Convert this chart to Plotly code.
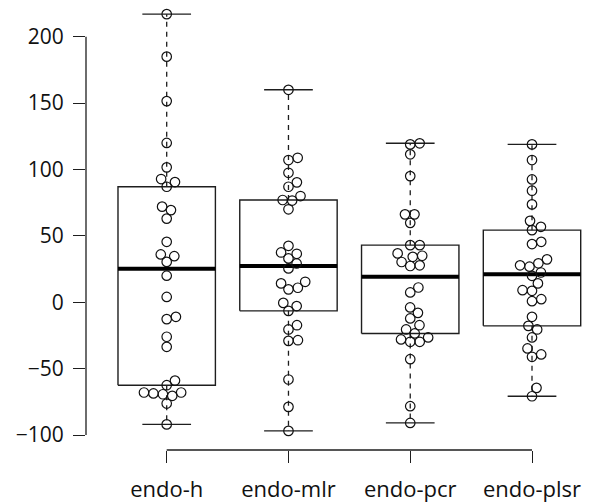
import numpy as np
import plotly.graph_objects as go

categories = ["endo-h", "endo-mlr", "endo-pcr", "endo-plsr"]

endo_h = [217, 185, 151.5, 120, 101.6, 92.8, 90.5, 87, 72, 69.4, 63, 45.5,
          36, 34.7, 30.4, 20, 4, -11, -12.7, -26, -33.6, -59, -62.5,
          -68, -68, -69.3, -70.5, -68.7, -76.3, -92]
endo_mlr = [160, 108.8, 107.1, 97.5, 90.3, 87.0, 80, 77, 76.6, 70, 42.5, 37.5,
            36.5, 33, 29.2, 25.5, 15.4, 14.2, 10.9, 9.7, -0.5, -2.9, -6.5,
            -17.3, -20.5, -28.6, -29.1, -58.2, -78.8, -96.9]
endo_pcr = [119.7, 118.9, 111.4, 95, 66.2, 66.2, 59.8, 43, 43, 36.8, 35, 34.2,
            30.3, 27.8, 27.3, 11.1, 7.4, -3.9, -8, -12.2, -17.3, -20.5,
            -23.5, -26.5, -28, -29.8, -29.8, -42.9, -78.3, -90.9]
endo_plsr = [118.9, 107.1, 92.5, 84, 73.7, 61.3, 56.8, 54.3, 45.5, 43.8, 32.3,
             29.3, 27.8, 26.8, 22.4, 19.9, 14.2, 9.1, 8.6, 2.3, 0.8, -11,
             -17.8, -20.5, -26.5, -34.8, -39.3, -41.1, -64.5, -70.8]

series = [endo_h, endo_mlr, endo_pcr, endo_plsr]
y_ticks = [-100, -50, 0, 50, 100, 150, 200]

# layout geometry (page has an 8px body margin, so the figure is 8px smaller)
W, H = 584, 494
ML, MR, MT, MB = 78, 0, 0, 52
x_range = [0.3373, 4.4927]
y_range = [-111.3, 221.63]
plot_w = W - ML - MR
plot_h = H - MT - MB
sx = plot_w / (x_range[1] - x_range[0])   # px per x unit
sy = plot_h / (y_range[1] - y_range[0])   # px per y unit

LINE = "#1e1e1e"
BOXW = 0.4
CAPW = 0.2
SPACE_PX = 9.5


def fivenum(v):
    x = np.sort(np.asarray(v, float))
    n = len(x)
    n4 = np.floor((n + 3) / 2) / 2
    d = np.array([1, n4, (n + 1) / 2, n + 1 - n4, n])
    return 0.5 * (x[np.floor(d).astype(int) - 1] + x[np.ceil(d).astype(int) - 1])


def swarm(vals, d):
    vals = np.asarray(vals, float)
    order = np.argsort(vals, kind="stable")
    offs = np.zeros(len(vals))
    placed = []
    for i in order:
        yi = vals[i] * sy
        pot = [(py, px) for (py, px) in placed if abs(yi - py) < d]
        if not pot:
            off = 0.0
        else:
            plus = [px + np.sqrt(d * d - (yi - py) ** 2) for py, px in pot]
            minus = [px - np.sqrt(d * d - (yi - py) ** 2) for py, px in pot]
            cands = [0.0] + plus + minus
            good = [c for c in cands
                    if all((yi - py) ** 2 + (c - px) ** 2 >= 0.999 * d * d for py, px in pot)]
            off = min(good, key=abs)
        offs[i] = off
        placed.append((yi, off))
    return offs / sx


fig = go.Figure()

for k, vals in enumerate(series):
    c = k + 1
    mn, q1, med, q3, mx = fivenum(vals)
    iqr = q3 - q1
    arr = np.asarray(vals, float)
    lo = arr[arr >= q1 - 1.5 * iqr].min()
    hi = arr[arr <= q3 + 1.5 * iqr].max()
    # whiskers
    fig.add_trace(go.Scatter(x=[c, c, None, c, c], y=[q3, hi, None, q1, lo], mode="lines",
                             line=dict(color=LINE, width=1.3, dash="5px,5px"),
                             hoverinfo="skip", showlegend=False))
    # caps
    fig.add_trace(go.Scatter(x=[c - CAPW, c + CAPW, None, c - CAPW, c + CAPW],
                             y=[hi, hi, None, lo, lo], mode="lines",
                             line=dict(color=LINE, width=1.4),
                             hoverinfo="skip", showlegend=False))
    # box
    fig.add_trace(go.Scatter(x=[c - BOXW, c + BOXW, c + BOXW, c - BOXW, c - BOXW],
                             y=[q1, q1, q3, q3, q1], mode="lines",
                             line=dict(color=LINE, width=1.4),
                             hoverinfo="skip", showlegend=False))
    # median
    fig.add_trace(go.Scatter(x=[c - BOXW, c + BOXW], y=[med, med], mode="lines",
                             line=dict(color="#000000", width=4),
                             hoverinfo="skip", showlegend=False))

for k, vals in enumerate(series):
    c = k + 1
    offs = swarm(vals, SPACE_PX)
    fig.add_trace(go.Scatter(x=c + offs, y=vals, mode="markers",
                             marker=dict(symbol="circle-open", size=9.5, color="#111111",
                                         line=dict(width=1.2, color="#111111")),
                             cliponaxis=False, name=categories[k], showlegend=False))

# axis lines in R style
fig.add_shape(type="line", xref="paper", yref="y", x0=0, x1=0, y0=min(y_ticks), y1=max(y_ticks),
              line=dict(color=LINE, width=1.3))
fig.add_shape(type="line", xref="x", yref="paper", x0=1, x1=len(categories), y0=0, y1=0,
              line=dict(color=LINE, width=1.3))

fig.update_layout(
    template="none",
    width=W, height=H,
    margin=dict(l=ML, r=MR, t=MT, b=MB),
    paper_bgcolor="white", plot_bgcolor="white",
    font=dict(family="Open Sans, DejaVu Sans, sans-serif", size=21, color="#111111"),
    showlegend=False,
    xaxis=dict(range=x_range, tickmode="array", tickvals=list(range(1, len(categories) + 1)),
               ticktext=categories, ticks="outside", ticklen=12, tickwidth=1.3, tickcolor=LINE,
               showgrid=False, zeroline=False, showline=False, automargin=False,
               ticklabelstandoff=8, tickfont=dict(size=22)),
    yaxis=dict(range=y_range, tickmode="array", tickvals=y_ticks, ticks="outside", ticklen=12,
               tickwidth=1.3, tickcolor=LINE, showgrid=False, zeroline=False, showline=False,
               automargin=False, ticklabelstandoff=5, tickfont=dict(size=21)),
)

fig.write_html("out.html")
